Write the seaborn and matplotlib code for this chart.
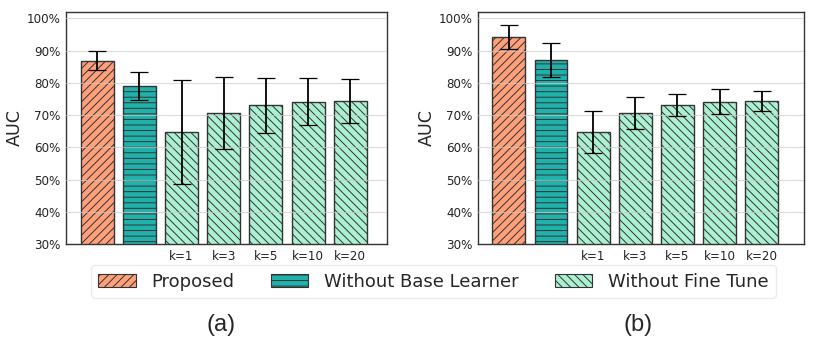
import numpy as np
import pandas as pd
import seaborn as sns
import matplotlib.pyplot as plt
from matplotlib.patches import Patch

# bar order: Proposed, Without Base Learner, Without Fine Tune (k=1..20)
bar_names = ["Proposed", "Without Base Learner", "k=1", "k=3", "k=5", "k=10", "k=20"]
tick_labels = ["", "", "k=1", "k=3", "k=5", "k=10", "k=20"]

auc_a = [86.9, 79.0, 64.8, 70.7, 73.0, 74.2, 74.4]
err_a = [3.0, 4.4, 16.1, 11.1, 8.4, 7.2, 6.8]

auc_b = [94.2, 87.1, 64.8, 70.7, 73.0, 74.2, 74.4]
err_b = [3.7, 5.4, 6.6, 5.0, 3.4, 3.9, 3.1]

legend_labels = ["Proposed", "Without Base Learner", "Without Fine Tune"]
group_colors = ["#FFA07A", "#20B2AA", "#AAF0D1"]
group_hatches = ["////", "---", "\\\\\\\\"]
bar_group = [0, 1, 2, 2, 2, 2, 2]

yticks = [30, 40, 50, 60, 70, 80, 90, 100]

sns.set_style("white")
plt.rcParams['font.family'] = ['DejaVu Sans']
plt.rcParams['hatch.linewidth'] = 0.7

fig = plt.figure(figsize=(8.3, 3.43), dpi=100)
ax_a = fig.add_axes([66 / 830, 1 - 244 / 343, 321 / 830, 232 / 343])
ax_b = fig.add_axes([478 / 830, 1 - 244 / 343, 326 / 830, 232 / 343])


def draw_panel(ax, values, errors, xlim):
    df = pd.DataFrame({'name': bar_names, 'auc': values})
    palette = {n: group_colors[g] for n, g in zip(bar_names, bar_group)}
    sns.barplot(data=df, x='name', y='auc', hue='name', palette=palette,
                order=bar_names, legend=False, width=0.78, saturation=1,
                edgecolor='#333333', linewidth=1.0, ax=ax, zorder=2)
    for patch, g in zip(ax.patches, bar_group):
        patch.set_hatch(group_hatches[g])
    ax.errorbar(np.arange(len(values)), values, yerr=errors, fmt='none',
                ecolor='black', elinewidth=1.3, capsize=6.8, capthick=0.9, zorder=4)

    ax.set_xlim(*xlim)
    ax.set_ylim(30, 102)
    ax.set_yticks(yticks)
    ax.set_yticklabels([f"{t}%" for t in yticks], fontsize=8.6)
    ax.set_xticks(range(len(tick_labels)))
    ax.set_xticklabels(tick_labels, fontsize=8.6)
    ax.tick_params(axis='both', length=3, width=0.8, pad=1.0, colors='#222222')
    ax.set_xlabel("")
    ax.set_ylabel("AUC", fontsize=12.6, labelpad=2)

    ax.grid(axis='y', color='#cccccc', linewidth=0.8, alpha=0.7, zorder=3)
    ax.set_axisbelow(False)
    for s in ax.spines.values():
        s.set_color('#333333')
        s.set_linewidth(1.0)


draw_panel(ax_a, auc_a, err_a, (-0.74, 6.87))
draw_panel(ax_b, auc_b, err_b, (-0.73, 7.0))

handles = [Patch(facecolor=c, edgecolor='#333333', hatch=h, linewidth=0.8)
           for c, h in zip(group_colors, group_hatches)]
fig.legend(handles, legend_labels, loc='center', bbox_to_anchor=(0.522, 0.179),
           ncol=3, fontsize=13, frameon=True, handlelength=2.1, handleheight=0.72,
           columnspacing=2.0, handletextpad=0.85, borderpad=0.4,
           edgecolor='#e6e6e6', fancybox=True)

fig.text(221 / 830, 1 - 325 / 343, "(a)", ha='center', va='center',
         fontsize=17, family=['Liberation Sans', 'DejaVu Sans'])
fig.text(638 / 830, 1 - 325 / 343, "(b)", ha='center', va='center',
         fontsize=17, family=['Liberation Sans', 'DejaVu Sans'])

fig.savefig("out.png", dpi=100)
